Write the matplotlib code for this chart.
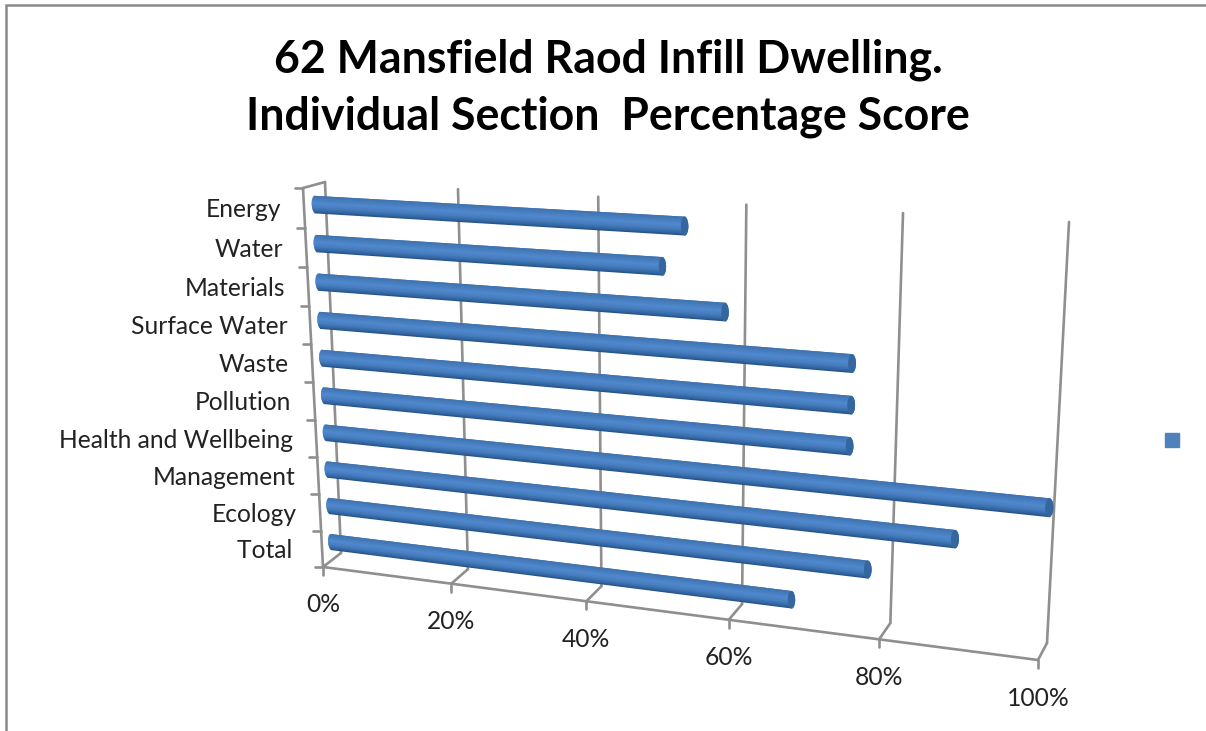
import numpy as np
import matplotlib
matplotlib.use("Agg")
import matplotlib.pyplot as plt
from matplotlib.transforms import Transform

# Section scores, listed from the top of the chart downwards
categories = ["Energy", "Water", "Materials", "Surface Water", "Waste",
              "Pollution", "Health and Wellbeing", "Management", "Ecology", "Total "]
scores = [53, 50, 58.4, 75, 75, 74.9, 100, 88.6, 77.6, 67.6]
tick_values = [0, 20, 40, 60, 80, 100]
tick_labels = ["0%", "20%", "40%", "60%", "80%", "100%"]
title_lines = ["62 Mansfield Raod Infill Dwelling.",
               "Individual Section  Percentage Score"]

W, H = 1206, 731
GREY = "#8f8f8f"
FONT = "Lato"

# Canvas corners of the chart box: (value=0,c=top), (100,top), (100,bottom), (0,bottom)
BACK = np.array([(325, 182), (1069, 222), (1047, 643), (341, 553)], float)
FRONT = np.array([(303, 188), (1056, 229), (1038, 660), (323, 567)], float)


def homography(src, dst):
    rows, rhs = [], []
    for (x, y), (u, v) in zip(src, dst):
        rows.append([x, y, 1, 0, 0, 0, -u * x, -u * y])
        rows.append([0, 0, 0, x, y, 1, -v * x, -v * y])
        rhs += [u, v]
    return np.append(np.linalg.solve(np.array(rows), np.array(rhs)), 1).reshape(3, 3)


class Perspective(Transform):
    """Maps (percent, category position) onto a plane of the 3-D box."""
    input_dims = output_dims = 2
    is_separable = False
    has_inverse = False

    def __init__(self, depth):
        super().__init__()
        corners = FRONT + (BACK - FRONT) * depth
        n = len(categories)
        self.m = homography([(0, n), (100, n), (100, 0), (0, 0)], corners)

    def transform_non_affine(self, values):
        pts = np.asarray(values, float)
        p = np.c_[pts, np.ones(len(pts))] @ self.m.T
        return p[:, :2] / p[:, 2:]


fig = plt.figure(figsize=(W / 100, H / 100), dpi=100, facecolor="white")
ax = fig.add_axes([0, 0, 1, 1])
ax.set_xlim(0, W)
ax.set_ylim(H, 0)
ax.set_autoscale_on(False)
ax.axis("off")

wall = Perspective(1.0) + ax.transData
front = Perspective(0.0) + ax.transData
mid = Perspective(0.5) + ax.transData
inv = ax.transData.inverted()
n = len(categories)
line = dict(color=GREY, lw=1.9, solid_capstyle="round", solid_joinstyle="round")
label_style = dict(fontsize=17.75, family=FONT, color="#222222", va="center",
                   textcoords="offset pixels")

# Outer chart frame
ax.plot([6, 6, W], [H, 5, 5], color="#8a8a8a", lw=1.8, solid_joinstyle="miter")

# Gridlines on the back wall, with the floor returns and tick marks
for v, tick in zip(tick_values, tick_labels):
    ax.plot([v, v], [0, n], transform=wall, **line)
    a, b = inv.transform(front.transform((v, 0))), inv.transform(wall.transform((v, 0)))
    ax.plot([a[0], b[0]], [a[1], b[1]], **line)
    ax.plot([a[0], a[0]], [a[1], a[1] + 8], **line)
    ax.annotate(tick, xy=(v, 0), xycoords=front, xytext=(0, -38),
                ha="center", **label_style)

# Floor edge, category axis and its ticks
ax.plot([0, 100], [0, 0], transform=front, **line)
ax.plot([0, 0], [0, n], transform=front, **line)
a, b = inv.transform(front.transform((0, n))), inv.transform(wall.transform((0, n)))
ax.plot([a[0], b[0]], [a[1], b[1]], **line)
for c in range(n + 1):
    t = inv.transform(front.transform((0, c)))
    ax.plot([t[0] - 8, t[0]], [t[1], t[1]], **line)

# Category labels beside the axis
for i, name in enumerate(categories):
    ax.annotate(name, xy=(0, n - i - 0.5), xycoords=front, xytext=(-23, -1.8),
                ha="right", **label_style)

# Cylindrical bars: strips overlap their neighbour so no seams show in the shading
shade_pos = [-1.0, -0.75, -0.35, 0.15, 0.6, 1.0]
shade_rgb = np.array([matplotlib.colors.to_rgb(h) for h in
                      ["#24507f", "#3265a3", "#467cbc", "#5089cf", "#477dbe", "#3f72ad"]])
HALF = 0.225
CAP = 0.5
STRIPS = 20
edges = np.linspace(-1, 1, STRIPS + 1)
step = edges[1] - edges[0]


def end_bulge(s):
    return CAP * np.sqrt(max(1 - s * s, 0))


for i, val in enumerate(scores):
    c = n - i - 0.5
    for lo, hi in zip(edges[:-1], edges[1:]):
        s = (lo + hi) / 2
        col = [np.interp(s, shade_pos, shade_rgb[:, k]) for k in range(3)]
        bulge = min(end_bulge(s), end_bulge(min(s + step, 1)))
        top = min(hi + step, 1)
        ax.fill([-bulge, val + bulge, val + bulge, -bulge],
                [c + lo * HALF, c + lo * HALF, c + top * HALF, c + top * HALF],
                transform=mid, color=col, lw=0, zorder=3)
    t = np.linspace(0, 2 * np.pi, 40)
    ax.fill(val + CAP * np.cos(t), c + HALF * np.sin(t), transform=mid,
            color="#34679f", lw=0, zorder=4)

# Legend key for the single unnamed series
ax.plot([1171.5], [440], marker="s", ms=9.5, color="#4f81bd", mec="#4f81bd", ls="none")

# Title
for text, y in zip(title_lines, (60, 117)):
    ax.text(608, y, text, ha="center", va="center", fontsize=32.1, fontweight="bold",
            family=FONT, color="black")

fig.savefig("out.png", dpi=100)
